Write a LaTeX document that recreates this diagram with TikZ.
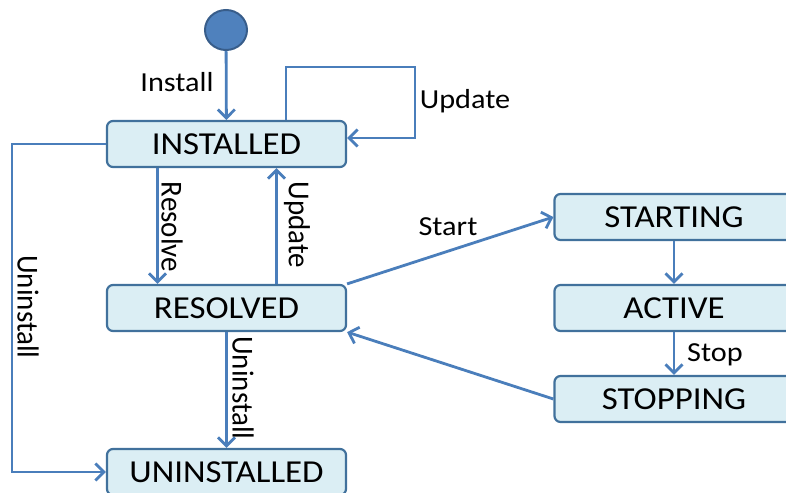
\documentclass[tikz,border=0pt]{standalone}
\usepackage{fontspec}
\setmainfont{Carlito}
\usetikzlibrary{arrows.meta,shapes.geometric}
\definecolor{boxfill}{HTML}{DBEEF4}
\definecolor{boxline}{HTML}{41719C}
\definecolor{arrowc}{HTML}{4A7EBB}
\definecolor{dotfill}{HTML}{4F81BD}
\definecolor{dotline}{HTML}{385D8A}
\newcommand\wtext[1]{\scalebox{1.09}[1]{#1}}
\newcommand\ltext[1]{\scalebox{1.1}[1]{#1}}
\newcommand\vtext[1]{\scalebox{1}[1.05]{#1}}
\tikzset{
  state/.style={draw=boxline, line width=2.2pt, fill=boxfill, rounded corners=6pt,
    minimum width=239pt, minimum height=46pt, inner sep=0pt,
    font=\fontsize{32}{32}\selectfont},
  arr/.style={draw=arrowc, line width=2.8pt, -{Straight Barb[length=8.5pt,width=17pt]}},
  lbl/.style={inner sep=0pt, font=\fontsize{27.5}{27.5}\selectfont},
  vlbl/.style={inner sep=0pt, rotate=-90, font=\fontsize{29}{29}\selectfont},
}
\begin{document}
\begin{tikzpicture}[x=1pt,y=-1pt]
\useasboundingbox (0,0) rectangle (786,492);
\node[ellipse, draw=dotline, line width=2pt, fill=dotfill, minimum width=42pt, minimum height=40pt, inner sep=0pt] (init) at (226,30) {};
\node[state] (installed) at (226.5,144) {\wtext{INSTALLED}};
\node[state] (resolved) at (226.5,308) {\wtext{RESOLVED}};
\node[state] (uninstalled) at (226.5,472) {\wtext{UNINSTALLED}};
\node[state] (starting) at (674,217) {\wtext{STARTING}};
\node[state] (active) at (674,308) {\wtext{ACTIVE}};
\node[state] (stopping) at (674,399) {\wtext{STOPPING}};

\coordinate (loopA) at (286,67);
\coordinate (loopB) at (415,67);
\coordinate (loopC) at (415,138);
\coordinate (leftA) at (12,144);

\draw[arr] (init) -- (installed);
\draw[arr] (installed.north -| loopA) -- (loopA) -- (loopB) -- (loopC) -- (installed.east |- loopC);
\draw[arr] ([xshift=-69pt]installed.south) -- ([xshift=-69pt]resolved.north);
\draw[arr] ([xshift=50pt]resolved.north) -- ([xshift=50pt]installed.south);
\draw[arr] (installed.west) -- (leftA) |- (uninstalled.west);
\draw[arr] (resolved.south) -- (uninstalled.north);
\draw[arr] (resolved.north east) -- (starting.west);
\draw[arr] (starting.south) -- (active.north);
\draw[arr] (active.south) -- (stopping.north);
\draw[arr] (stopping.west) -- (resolved.south east);

\node[lbl] (linstall) at (177,82) {\ltext{Install}};
\node[lbl] (lupdate1) at (465,101) {\ltext{Update}};
\node[lbl] (lstart) at (448,227) {\ltext{Start}};
\node[lbl] (lstop) at (715,355) {\ltext{Stop}};
\node[vlbl] (lresolve) at (172,227) {\vtext{Resolve}};
\node[vlbl] (lupdate2) at (297,225) {\vtext{Update}};
\node[vlbl] (luninst1) at (28,307) {\vtext{Uninstall}};
\node[vlbl] (luninst2) at (243,388) {\vtext{Uninstall}};
\end{tikzpicture}
\end{document}
